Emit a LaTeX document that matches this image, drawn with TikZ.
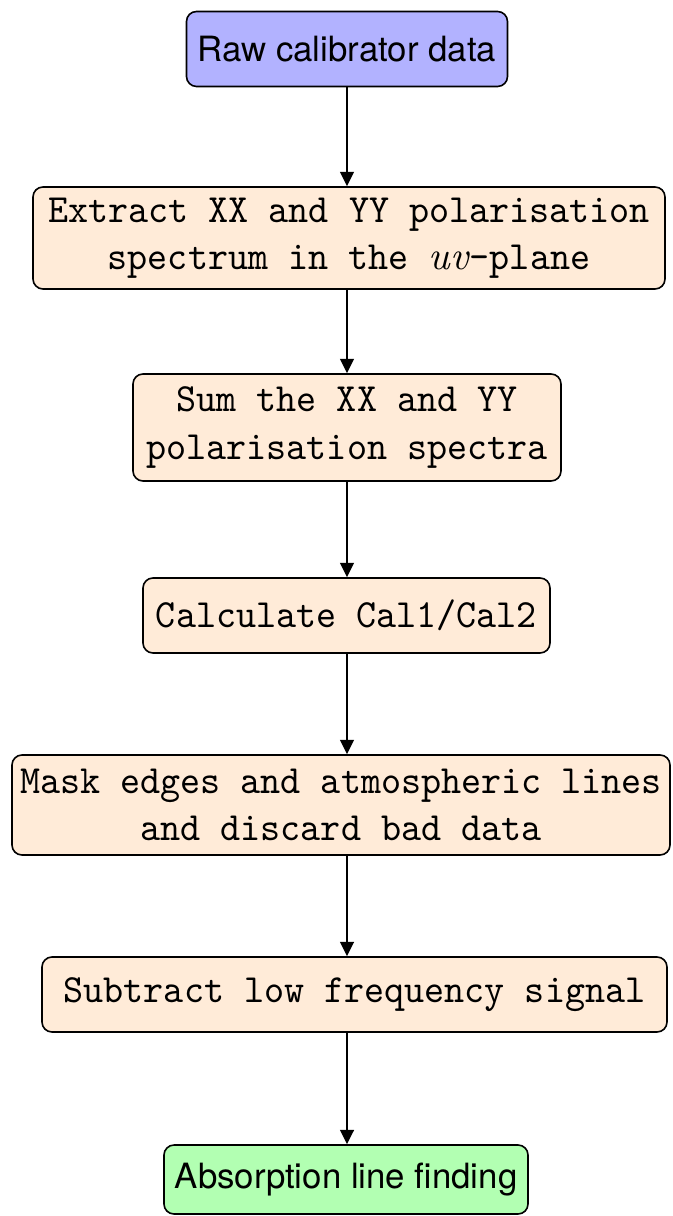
\documentclass[tikz,border=0pt]{standalone}
\usepackage{fontspec}
\setsansfont{TeX Gyre Heros}
\setmonofont[FakeStretch=0.955]{Latin Modern Mono}
\usetikzlibrary{arrows.meta}
\definecolor{rawblue}{RGB}{178,178,255}
\definecolor{stepfill}{RGB}{255,235,216}
\definecolor{endgreen}{RGB}{178,255,178}
\tikzset{
  flowbox/.style={draw=black, rounded corners=2.5pt, inner sep=0pt, align=center, line width=0.4pt},
  monotext/.style={font=\fontsize{10}{11.8}\selectfont\ttfamily},
  sanstext/.style={font=\fontsize{8.7}{10.5}\selectfont\sffamily},
  flowarrow/.style={-{Triangle[length=3.6pt,width=3.5pt]}, line width=0.4pt}
}
\begin{document}
\begin{tikzpicture}[x=0.25pt, y=-0.25pt]
\useasboundingbox (0,0) rectangle (672,1216);
\coordinate (axis) at (347,0);
\node[flowbox, sanstext, fill=rawblue, minimum width=80.25pt, minimum height=18.75pt] (raw) at (347,49) {Raw calibrator data};
\node[flowbox, monotext, fill=stepfill, minimum width=158pt, minimum height=25.5pt] (ext) at (349,238) {Extract XX and YY polarisation\\spectrum in the \textit{\rmfamily uv}-plane};
\node[flowbox, monotext, fill=stepfill, minimum width=107pt, minimum height=26.75pt] (sum) at (347,427.5) {Sum the XX and YY\\polarisation spectra};
\node[flowbox, monotext, fill=stepfill, minimum width=101.75pt, minimum height=18.75pt] (calc) at (346.5,615.5) {Calculate Cal1/Cal2};
\node[flowbox, monotext, fill=stepfill, minimum width=164.5pt, minimum height=25pt] (mask) at (341,805) {Mask edges and atmospheric lines\\and discard bad data};
\node[flowbox, monotext, fill=stepfill, minimum width=156.25pt, minimum height=18.75pt] (sub) at (354.5,994.5) {Subtract low frequency signal};
\node[flowbox, sanstext, fill=endgreen, minimum width=91pt, minimum height=17.25pt] (abs) at (346,1179.5) {Absorption line finding};
\draw[flowarrow] (raw.south -| axis) -- (ext.north -| axis);
\draw[flowarrow] (ext.south -| axis) -- (sum.north -| axis);
\draw[flowarrow] (sum.south -| axis) -- (calc.north -| axis);
\draw[flowarrow] (calc.south -| axis) -- (mask.north -| axis);
\draw[flowarrow] (mask.south -| axis) -- (sub.north -| axis);
\draw[flowarrow] (sub.south -| axis) -- (abs.north -| axis);
\end{tikzpicture}
\end{document}
